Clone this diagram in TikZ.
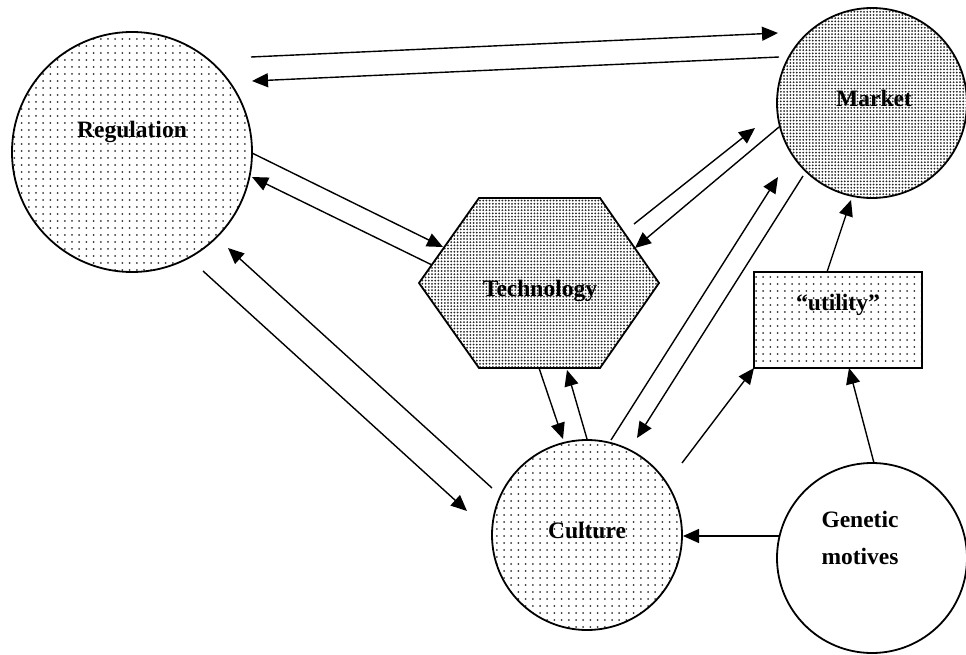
\documentclass[tikz,border=0pt]{standalone}
\usepackage{fontspec}
\setmainfont{Liberation Serif}
\usetikzlibrary{arrows.meta,patterns.meta,calc}

\tikzdeclarepattern{
  name=sparsedots,
  type=uncolored,
  bottom left={(-1.2pt,-1.2pt)},
  top right={(1.2pt,1.2pt)},
  tile size={(7.2pt,7pt)},
  code={\pgfpathcircle{\pgfpointorigin}{1pt}\pgfusepath{fill}}
}
\tikzdeclarepattern{
  name=densedots,
  type=uncolored,
  bottom left={(-1.2pt,-1.2pt)},
  top right={(1.2pt,1.2pt)},
  tile size={(3.2pt,3.2pt)},
  code={\pgfpathcircle{\pgfpointorigin}{1pt}\pgfusepath{fill}}
}

\tikzset{
  lbl/.style={font=\bfseries\fontsize{23.5}{37}\selectfont, inner sep=0pt, align=center},
  arr/.style={-{Triangle[length=16pt,width=14pt]}, line width=1.4pt},
  shp/.style={draw, line width=1.8pt},
  sparse/.style={pattern={sparsedots}, pattern color=black!80},
  dense/.style={pattern={densedots}, pattern color=black!85},
}

\begin{document}
\begin{tikzpicture}[x=1pt,y=-1pt]
\useasboundingbox (0,0) rectangle (966,655);

% shapes
\node[circle, shp, sparse, minimum size=240pt, inner sep=0pt] (reg) at (132,152) {};
\node[circle, shp, dense, minimum size=190pt, inner sep=0pt] (mkt) at (872,103) {};
\coordinate (tech) at (539,283);
\draw[shp, dense] ($(tech)+(-120,0)$) -- ($(tech)+(-60,-85)$) -- ($(tech)+(61,-85)$)
  -- ($(tech)+(120,0)$) -- ($(tech)+(61,85)$) -- ($(tech)+(-60,85)$) -- cycle;
\node[rectangle, shp, sparse, minimum width=168pt, minimum height=96pt, inner sep=0pt] (util) at (838,320) {};
\node[circle, shp, sparse, minimum size=190pt, inner sep=0pt] (cult) at (587,535) {};
\node[circle, shp, fill=white, minimum size=190pt, inner sep=0pt] (gen) at (872,558) {};

% labels
\node[lbl] (regT) at (132,132) {Regulation};
\node[lbl] (mktT) at (874,98) {Market};
\node[lbl] (techT) at (540,291) {Technology};
\node[lbl] (utilT) at (838,305) {“utility”};
\node[lbl] (cultT) at (587,530) {Culture};
\node[lbl] (genT) at (860,538) {Genetic\\motives};

% connectors
\draw[arr] ($(reg)+(119,-95)$) -- ($(mkt)+(-94,-70)$);
\draw[arr] ($(mkt)+(-93,-46)$) -- ($(reg)+(120,-71)$);
\draw[arr] ($(reg)+(120,1)$) -- ($(tech)+(-96,-36)$);
\draw[arr] ($(tech)+(-107,-18)$) -- ($(reg)+(120,25)$);
\draw[arr] ($(reg)+(71,119)$) -- ($(cult)+(-120,-24)$);
\draw[arr] ($(cult)+(-95,-47)$) -- ($(reg)+(96,96)$);
\draw[arr] ($(tech)+(95,-59)$) -- ($(mkt)+(-117,25)$);
\draw[arr] ($(mkt)+(-93,24)$) -- ($(tech)+(96,-35)$);
\draw[arr] ($(tech)+(0,85)$) -- ($(cult)+(-24,-96)$);
\draw[arr] ($(cult)+(0,-96)$) -- ($(tech)+(28,87)$);
\draw[arr] ($(cult)+(24,-95)$) -- ($(mkt)+(-94,74)$);
\draw[arr] ($(mkt)+(-69,73)$) -- ($(cult)+(50,-97)$);
\draw[arr] ($(cult)+(95,-72)$) -- ($(util)+(-84,48)$);
\draw[arr] ($(gen)+(2,-95)$) -- ($(util)+(11,48)$);
\draw[arr] ($(util)+(-11,-48)$) -- ($(mkt)+(-21,97)$);
\draw[arr] ($(gen)+(-93,-22)$) -- ($(cult)+(96,1)$);
\end{tikzpicture}
\end{document}
